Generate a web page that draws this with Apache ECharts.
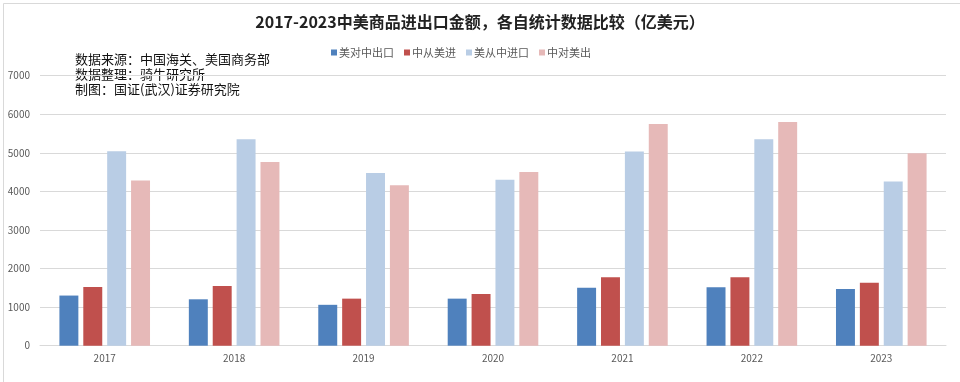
<!DOCTYPE html>
<html><head><meta charset="utf-8">
<script src="https://cdn.jsdelivr.net/npm/echarts@6/dist/echarts.min.js"></script>
<style>html,body{margin:0;padding:0;background:#fff}#c{width:960px;height:382px}</style>
</head><body><div id="c"></div>
<script>
const categories = ['2017','2018','2019','2020','2021','2022','2023'];
const seriesNames = ['美对中出口','中从美进','美从中进口','中对美出'];
const usExportToChina = [1300, 1203, 1060, 1220, 1500, 1515, 1470];
const chinaImportFromUS = [1525, 1550, 1220, 1340, 1775, 1775, 1635];
const usImportFromChina = [5040, 5355, 4480, 4305, 5035, 5355, 4255];
const chinaExportToUS = [4285, 4765, 4160, 4505, 5750, 5800, 4990];
const yTicks = [0,1000,2000,3000,4000,5000,6000,7000];
const notes = ['数据来源：中国海关、美国商务部','数据整理：骑牛研究所','制图：国证(武汉)证券研究院'];
const colors = ['#4F81BD','#C0504D','#B9CDE5','#E6B9B8'];
const values = [usExportToChina, chinaImportFromUS, usImportFromChina, chinaExportToUS];

const chart = echarts.init(document.getElementById('c'), null, {renderer:'canvas'});
chart.setOption({
  animation:false,
  backgroundColor:'#fff',
  textStyle:{fontFamily:'"Noto Sans CJK SC", sans-serif'},
  title:{text:'2017-2023中美商品进出口金额，各自统计数据比较（亿美元）',left:'center',top:9,
    textStyle:{fontSize:16,fontWeight:'bold',color:'#222',fontFamily:'"Noto Sans CJK SC", sans-serif'}},
  legend:{top:42,left:326,itemWidth:6,itemHeight:6,itemGap:10,icon:'rect',
    textStyle:{fontSize:11,color:'#595959',padding:[0,0,0,-3]},data:seriesNames},
  grid:{left:40,right:14,top:75.7,bottom:36.3,containLabel:false},
  xAxis:{type:'category',data:categories,
    axisLine:{lineStyle:{color:'#D9D9D9'}},axisTick:{show:false},
    axisLabel:{color:'#595959',fontSize:10,margin:8}},
  yAxis:{type:'value',min:yTicks[0],max:yTicks[yTicks.length-1],interval:1000,
    axisLine:{show:false},axisTick:{show:false},
    axisLabel:{color:'#595959',fontSize:10,margin:10,formatter:v=>String(v)},
    splitLine:{lineStyle:{color:'#D9D9D9'}}},
  graphic:[
    {type:'rect',left:1,top:1,shape:{width:957,height:379},style:{fill:'none',stroke:'#D9D9D9',lineWidth:1}},
    ...notes.map((t,i)=>({type:'text',left:75,top:53+i*15,style:{text:t,fontSize:13,fill:'#111',fontFamily:'"Noto Sans CJK SC", sans-serif'}}))
  ],
  series: seriesNames.map((n,i)=>({name:n,type:'bar',data:values[i],
    barGap:'26%',barCategoryGap:'30%',itemStyle:{color:colors[i]}}))
});
</script></body></html>
